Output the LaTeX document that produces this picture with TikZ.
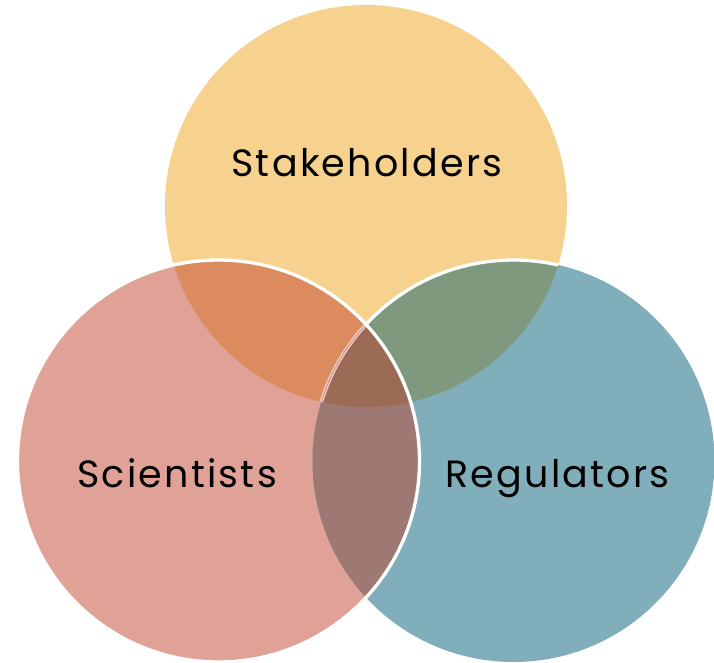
\documentclass[tikz,border=0pt]{standalone}
\usepackage{fontspec}
\setmainfont{Poppins}[LetterSpace=6]
\definecolor{yel}{HTML}{F7D28F}
\definecolor{pnk}{HTML}{E0A297}
\definecolor{blu}{HTML}{80AEBA}
\definecolor{yelpnk}{HTML}{DB8B5E}
\definecolor{yelblu}{HTML}{7F997F}
\definecolor{pnkblu}{HTML}{9E7872}
\definecolor{allthree}{HTML}{9B6B55}
\tikzset{
  setlabel/.style={anchor=base,inner sep=0.75pt,font=\fontsize{28.5}{34}\selectfont,text=black},
  rim/.style={draw=white,line width=2.5pt}
}
\begin{document}
\begin{tikzpicture}[x=0.75pt,y=0.75pt,yscale=-1,xscale=1]
        \useasboundingbox (0,0) rectangle (714,663);
        \coordinate (Y) at (366,206);
        \coordinate (P) at (218.5,461);
        \coordinate (B) at (513.5,461);

        %Shape: Circle [id:stake]
        \fill [yel] (Y) circle [radius=201];
        %Shape: Circle [id:sci]
        \fill [pnk] (P) circle [radius=201];
        %Shape: Circle [id:reg]
        \fill [blu] (B) circle [radius=201];

        % overlaps
        \begin{scope}
          \clip (Y) circle [radius=201];
          \fill [yelpnk] (P) circle [radius=201];
          \fill [yelblu] (B) circle [radius=201];
        \end{scope}
        \begin{scope}
          \clip (P) circle [radius=201];
          \fill [pnkblu] (B) circle [radius=201];
          \clip (Y) circle [radius=201];
          \fill [allthree] (B) circle [radius=201];
        \end{scope}

        % white rims
        \begin{scope}
          \clip (Y) circle [radius=201];
          \draw [rim] (B) circle [radius=201];
          \clip (P) circle [radius=201];
          \draw [draw=pnk,line width=1.6pt] (B) circle [radius=201];
        \end{scope}
        \draw [rim] (P) circle [radius=201];

        % Text Node
        \node [setlabel] (stake) at (367,177) {Stakeholders};
        % Text Node
        \node [setlabel] (sci) at (177,487) {Scientists};
        % Text Node
        \node [setlabel] (reg) at (557.5,487) {Regulators};

\end{tikzpicture}
\end{document}
